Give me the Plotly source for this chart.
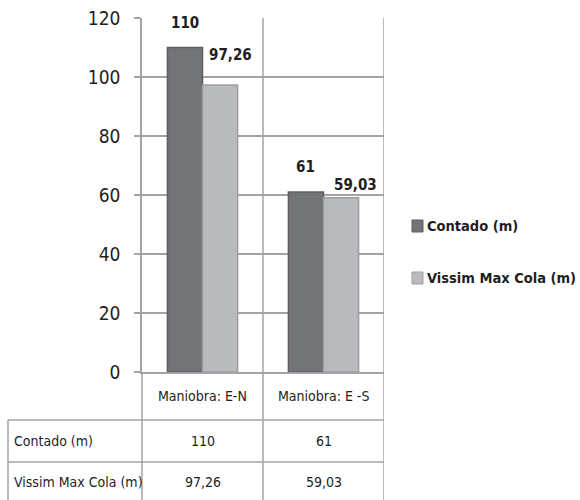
import plotly.graph_objects as go

# ---- data ----
categories = ["Maniobra: E-N", "Maniobra: E -S"]
series_names = ["Contado (m)", "Vissim Max Cola (m)"]
contado = [110, 61]
vissim = [97.26, 59.03]
y_ticks = [0, 20, 40, 60, 80, 100, 120]

# ---- style ----
W, H = 580, 500
FONT = "Liberation Sans Narrow, DejaVu Sans Condensed, Arial Narrow, sans-serif"
TEXT = "#1e1e1e"
GRID = "#a3a3a3"
DARK = "#737478"
DARK_EDGE = "#5e5f63"
LIGHT = "#b9babe"
LIGHT_EDGE = "#9c9da1"
BARGAP = 0.42

# plot area in pixels
X0, X1 = 142, 384
Y_TOP, Y_BOT = 18, 372
# table rows (pixel y)
ROW_HDR_BOT = 420
ROW1_BOT = 462
TABLE_LEFT = 8


def px(x):
    return x / W


def py(y):
    return 1 - y / H


def fmt(v):
    s = f"{v:g}"
    return s.replace(".", ",")


series = [contado, vissim]
fills = [DARK, LIGHT]
edges = [DARK_EDGE, LIGHT_EDGE]

fig = go.Figure()
for name, vals, c, e in zip(series_names, series, fills, edges):
    fig.add_trace(go.Bar(
        x=categories, y=vals, name=name,
        marker=dict(color=c, line=dict(color=e, width=1.5)),
        showlegend=False, hoverinfo="skip",
    ))

fig.update_layout(
    width=W, height=H,
    margin=dict(l=0, r=0, t=0, b=0, pad=0, autoexpand=False),
    paper_bgcolor="white", plot_bgcolor="white",
    barmode="group", bargap=BARGAP, bargroupgap=0,
    showlegend=False,
    font=dict(family=FONT, color=TEXT),
    xaxis=dict(
        domain=[px(X0), px(X1)], automargin=False,
        showticklabels=False, showgrid=False, zeroline=False,
        showline=True, linecolor=GRID, linewidth=1.5,
        range=[-0.5, len(categories) - 0.5],
    ),
    yaxis=dict(
        domain=[py(Y_BOT), py(Y_TOP)], automargin=False,
        range=[0, 120], tickvals=y_ticks,
        ticks="outside", ticklen=6, tickcolor=GRID, tickwidth=1.5,
        showgrid=True, gridcolor=GRID, gridwidth=1.5,
        showline=True, linecolor=GRID, linewidth=1.5, zeroline=False,
        tickfont=dict(size=19, color=TEXT, family=FONT),
        ticklabelstandoff=10,
    ),
)

shapes = []
annotations = []

# vertical grid lines at category boundaries, running down through the table
for b in [i - 0.5 for i in range(1, len(categories) + 1)]:
    shapes.append(dict(type="line", xref="x", yref="paper",
                       x0=b, x1=b, y0=py(H + 5), y1=py(Y_TOP),
                       line=dict(color=GRID, width=1.5)))
# left axis line continues down through the table
shapes.append(dict(type="line", xref="paper", yref="paper",
                   x0=px(X0), x1=px(X0), y0=py(H + 5), y1=py(Y_BOT),
                   line=dict(color=GRID, width=1.5)))
# table horizontal rules and left border
for yy in [ROW_HDR_BOT, ROW1_BOT]:
    shapes.append(dict(type="line", xref="paper", yref="paper",
                       x0=px(TABLE_LEFT), x1=px(X1), y0=py(yy), y1=py(yy),
                       line=dict(color=GRID, width=1.5)))
shapes.append(dict(type="line", xref="paper", yref="paper",
                   x0=px(TABLE_LEFT), x1=px(TABLE_LEFT),
                   y0=py(H + 5), y1=py(ROW_HDR_BOT),
                   line=dict(color=GRID, width=1.5)))

# table text
row_centers = [(Y_BOT + ROW_HDR_BOT) / 2, (ROW_HDR_BOT + ROW1_BOT) / 2, ROW1_BOT + 20]
for i, cat in enumerate(categories):
    annotations.append(dict(x=i, y=py(row_centers[0]), xref="x", yref="paper",
                            text=cat, showarrow=False, xanchor="center", yanchor="middle",
                            font=dict(size=14, color=TEXT, family=FONT)))
for r, (name, vals) in enumerate(zip(series_names, series)):
    yc = py(row_centers[r + 1])
    annotations.append(dict(x=px(TABLE_LEFT + 4), y=yc, xref="paper", yref="paper",
                            text=name, showarrow=False, xanchor="left", yanchor="middle",
                            font=dict(size=14, color=TEXT, family=FONT)))
    for i, v in enumerate(vals):
        annotations.append(dict(x=i, y=yc, xref="x", yref="paper",
                                text=fmt(v), showarrow=False, xanchor="center",
                                yanchor="middle",
                                font=dict(size=14, color=TEXT, family=FONT)))

# data labels above bars
bar_w = (1 - BARGAP) / len(series)
label_shift = [[(0, 25), (0, 25)], [(10, 30), (14, 13)]]
for s, vals in enumerate(series):
    off = (s - (len(series) - 1) / 2) * bar_w
    for i, v in enumerate(vals):
        dx, dy = label_shift[s][i]
        annotations.append(dict(x=i + off, y=v, xref="x", yref="y",
                                text=f"<b>{fmt(v)}</b>", showarrow=False,
                                xanchor="center", yanchor="middle",
                                xshift=dx, yshift=dy,
                                font=dict(size=15, color=TEXT, family=FONT)))

# legend
legend_y = [226, 278]
for name, c, e, yy in zip(series_names, fills, edges, legend_y):
    shapes.append(dict(type="rect", xref="paper", yref="paper",
                       x0=px(412), x1=px(423), y0=py(yy + 6), y1=py(yy - 6),
                       fillcolor=c, line=dict(color=e, width=1)))
    annotations.append(dict(x=px(425), y=py(yy), xref="paper", yref="paper",
                            text=f"<b>{name}</b>", showarrow=False,
                            xanchor="left", yanchor="middle",
                            font=dict(size=14.5, color=TEXT, family=FONT)))

fig.update_layout(shapes=shapes, annotations=annotations)
fig.write_html("out.html")
